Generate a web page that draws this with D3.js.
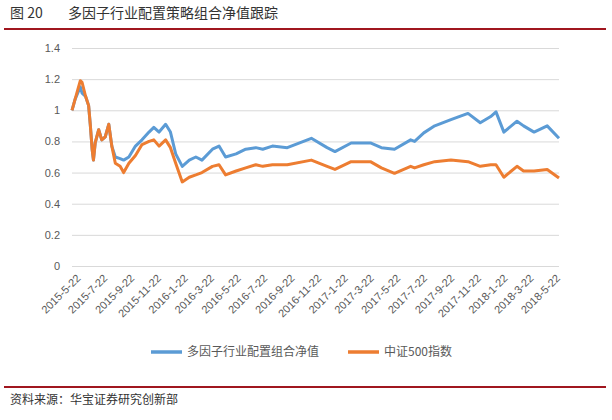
<!DOCTYPE html>
<html><head><meta charset="utf-8">
<script src="https://cdn.jsdelivr.net/npm/d3@7"></script>
<style>body{margin:0;background:#fff}</style></head>
<body><svg id="c" width="612" height="420"></svg>
<script>
const dates = ["2015-05-22","2015-05-29","2015-06-10","2015-06-14","2015-06-22","2015-06-29","2015-07-03","2015-07-07","2015-07-10","2015-07-14","2015-07-22","2015-07-29","2015-08-06","2015-08-14","2015-08-21","2015-08-29","2015-09-09","2015-09-17","2015-09-29","2015-10-14","2015-10-29","2015-11-14","2015-11-25","2015-12-07","2015-12-22","2016-01-02","2016-01-14","2016-01-29","2016-02-14","2016-02-29","2016-03-14","2016-04-07","2016-04-22","2016-05-07","2016-05-31","2016-06-22","2016-07-15","2016-07-31","2016-08-22","2016-09-25","2016-11-19","2016-12-25","2017-01-12","2017-02-18","2017-04-03","2017-04-28","2017-05-28","2017-07-04","2017-07-13","2017-08-03","2017-08-28","2017-10-04","2017-11-12","2017-12-10","2018-01-03","2018-01-15","2018-02-02","2018-03-04","2018-03-19","2018-04-12","2018-05-12","2018-06-08"];
const strategy = [1.0,1.07,1.15,1.11,1.09,1.03,0.9,0.75,0.68,0.79,0.875,0.81,0.83,0.91,0.77,0.70,0.69,0.68,0.70,0.77,0.81,0.86,0.89,0.86,0.91,0.86,0.72,0.64,0.68,0.70,0.68,0.75,0.77,0.70,0.72,0.75,0.76,0.75,0.77,0.76,0.82,0.76,0.735,0.79,0.79,0.76,0.75,0.81,0.80,0.855,0.90,0.94,0.98,0.92,0.96,0.99,0.86,0.93,0.90,0.86,0.90,0.82];
const csi500 = [1.0,1.07,1.19,1.18,1.09,1.03,0.9,0.75,0.68,0.79,0.875,0.81,0.83,0.91,0.77,0.66,0.64,0.60,0.66,0.71,0.78,0.80,0.81,0.77,0.81,0.76,0.66,0.54,0.57,0.585,0.60,0.64,0.65,0.585,0.61,0.63,0.65,0.64,0.65,0.65,0.68,0.64,0.62,0.67,0.67,0.63,0.595,0.64,0.63,0.65,0.67,0.68,0.67,0.64,0.65,0.65,0.57,0.64,0.61,0.61,0.62,0.565];
const tickLabels = ["2015-5-22","2015-7-22","2015-9-22","2015-11-22","2016-1-22","2016-3-22","2016-5-22","2016-7-22","2016-9-22","2016-11-22","2017-1-22","2017-3-22","2017-5-22","2017-7-22","2017-9-22","2017-11-22","2018-1-22","2018-3-22","2018-5-22"];
const yTicks = [0,0.2,0.4,0.6,0.8,1,1.2,1.4];
const seriesNames = ["多因子行业配置组合净值","中证500指数"];
const colors = ["#5B9BD5","#ED7D31"];

const parse = d3.timeParse("%Y-%m-%d");
const svg = d3.select("#c");
const cjk = "'Noto Sans CJK SC', sans-serif";
const x = d3.scaleTime().domain([parse("2015-05-22"), parse("2018-06-08")]).range([72,559]);
const y = d3.scaleLinear().domain([0,1.4]).range([266,48]);

svg.append("text").attr("x",10).attr("y",18).attr("font-family",cjk).attr("font-size",14).attr("fill","#333").text("图 20");
svg.append("text").attr("x",68).attr("y",18).attr("font-family",cjk).attr("font-size",14).attr("fill","#333").text("多因子行业配置策略组合净值跟踪");
svg.append("line").attr("x1",4).attr("x2",606).attr("y1",29).attr("y2",29).attr("stroke","#a0161f").attr("stroke-width",2);
svg.append("line").attr("x1",4).attr("x2",606).attr("y1",387).attr("y2",387).attr("stroke","#a0161f").attr("stroke-width",2);
svg.append("text").attr("x",10).attr("y",404).attr("font-family",cjk).attr("font-size",12).attr("fill","#333").text("资料来源：华宝证券研究创新部");

const ya = svg.append("g").attr("transform","translate(72,0)")
  .call(d3.axisLeft(y).tickValues(yTicks).tickSize(-487).tickFormat(d3.format("")).tickPadding(12));
ya.select(".domain").remove();
ya.selectAll("line").attr("stroke","#d9d9d9");
ya.selectAll("text").attr("fill","#595959").attr("font-size",11).attr("font-family","'Liberation Sans', Arial, sans-serif");

const xa = svg.append("g").attr("transform","translate(0,266)")
  .call(d3.axisBottom(x).tickValues(tickLabels.map(parse)).tickSize(0).tickFormat((d,i)=>tickLabels[i]));
xa.select(".domain").remove();
xa.selectAll("text").attr("fill","#595959").attr("font-size",11).attr("font-family","'Liberation Sans', Arial, sans-serif")
  .attr("text-anchor","end").attr("dy","0.35em").attr("transform","translate(4,8) rotate(-45)");

const line = d3.line().x((d,i)=>x(parse(dates[i]))).y(d=>y(d));
[strategy,csi500].forEach((s,k)=>{
  svg.append("path").attr("d",line(s)).attr("fill","none").attr("stroke",colors[k]).attr("stroke-width",3).attr("stroke-linejoin","round");
});

const leg = [[151,seriesNames[0],colors[0]],[348,seriesNames[1],colors[1]]];
leg.forEach(([lx,t,c])=>{
  svg.append("line").attr("x1",lx).attr("x2",lx+31).attr("y1",352).attr("y2",352).attr("stroke",c).attr("stroke-width",3.5);
  svg.append("text").attr("x",lx+36).attr("y",356).attr("font-family",cjk).attr("font-size",12).attr("fill","#595959").text(t);
});
</script></body></html>
